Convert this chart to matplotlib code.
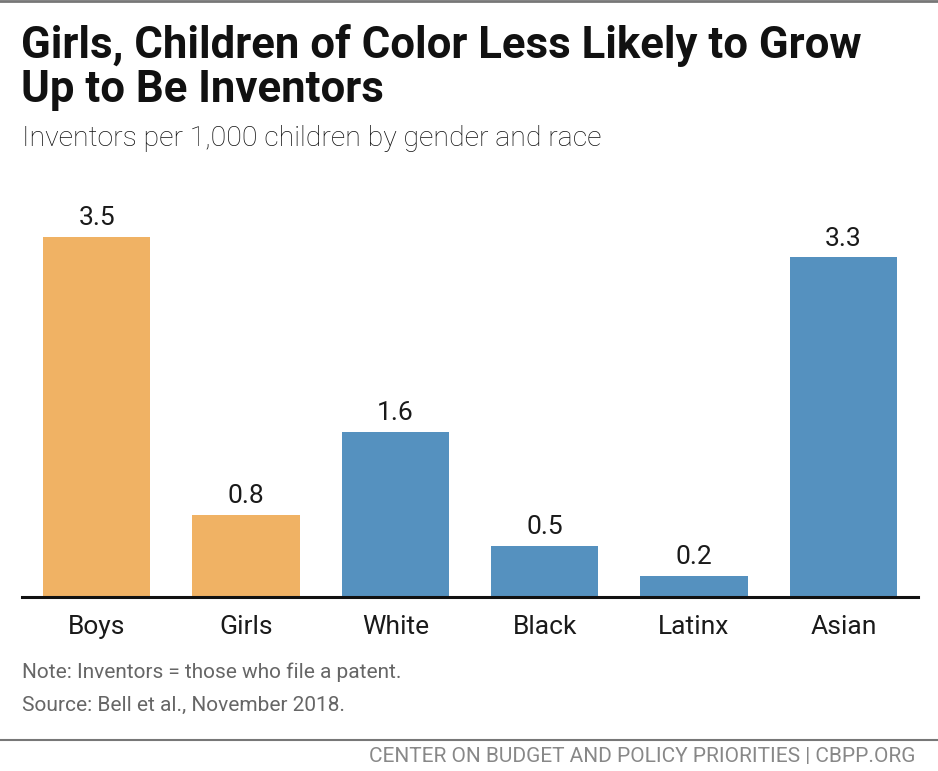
import matplotlib
matplotlib.use("Agg")
import matplotlib.pyplot as plt
from matplotlib.lines import Line2D

categories = ["Boys", "Girls", "White", "Black", "Latinx", "Asian"]
values = [3.5, 0.8, 1.6, 0.5, 0.2, 3.3]
value_labels = ["3.5", "0.8", "1.6", "0.5", "0.2", "3.3"]
groups = ["gender", "gender", "race", "race", "race", "race"]

group_colors = {"gender": "#F0B264", "race": "#5591BF"}

title = "Girls, Children of Color Less Likely to Grow\nUp to Be Inventors"
subtitle = "Inventors per 1,000 children by gender and race"
note = "Note: Inventors = those who file a patent."
source = "Source: Bell et al., November 2018."
footer = "CENTER ON BUDGET AND POLICY PRIORITIES | CBPP.ORG"

W, H = 938, 771
fig = plt.figure(figsize=(W / 100, H / 100), dpi=100)
fig.patch.set_facecolor("white")

def fx(px):
    return px / W

def fy(py):
    return 1 - py / H

ax = fig.add_axes([fx(22), fy(597), fx(918) - fx(22), fy(170) - fy(597)])
x = list(range(len(categories)))
colors = [group_colors[g] for g in groups]
ax.bar(x, values, width=0.72, color=colors, zorder=2)
ax.set_xlim(-0.5, len(categories) - 0.5)
ax.set_ylim(0, 4.15)
for xi, v, lab in zip(x, values, value_labels):
    ax.annotate(lab, (xi, v), xytext=(0, 5), textcoords="offset points",
                ha="center", va="bottom", fontsize=19, family="Roboto",
                color="#1a1a1a")
ax.set_xticks(x)
ax.set_xticklabels(categories, fontsize=19, family="Roboto", color="#1a1a1a")
ax.tick_params(axis="x", length=0, pad=13)
ax.set_yticks([])
for s in ["left", "right", "top"]:
    ax.spines[s].set_visible(False)
ax.spines["bottom"].set_linewidth(2.2)
ax.spines["bottom"].set_color("#111111")

# top border
fig.add_artist(Line2D([0, 1], [fy(1), fy(1)], color="#777777", lw=2))

fig.text(fx(21), fy(24), title, fontsize=31.5, fontweight="bold", family="Roboto",
         va="top", ha="left", color="#111111", linespacing=1.05)
fig.text(fx(22), fy(138), subtitle, fontsize=20.4, fontweight="light", family="Roboto",
         va="center", ha="left", color="#111111")

fig.text(fx(22), fy(672), note, fontsize=15, family="Roboto", color="#666666",
         va="center", ha="left")
fig.text(fx(22), fy(705), source, fontsize=15, family="Roboto", color="#666666",
         va="center", ha="left")

fig.add_artist(Line2D([0, 1], [fy(740), fy(740)], color="#777777", lw=1.5))
fig.text(fx(915), fy(756), footer, fontsize=15, family="Roboto", color="#888888",
         va="center", ha="right")

fig.savefig("out.png", dpi=100, facecolor="white")
